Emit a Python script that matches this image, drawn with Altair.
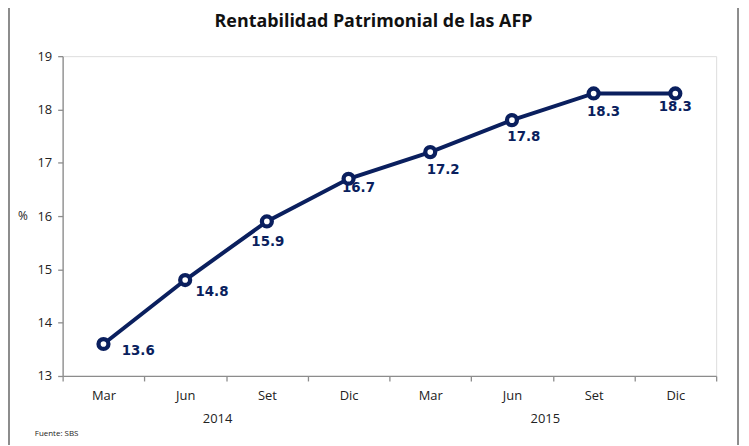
import altair as alt
import pandas as pd

months = ["Mar", "Jun", "Set", "Dic", "Mar", "Jun", "Set", "Dic"]
years = ["2014", "2014", "2014", "2014", "2015", "2015", "2015", "2015"]
values = [13.6, 14.8, 15.9, 16.7, 17.2, 17.8, 18.3, 18.3]
labels = ["13.6", "14.8", "15.9", "16.7", "17.2", "17.8", "18.3", "18.3"]
year_labels = ["2014", "2015"]

# layout only: label offsets (dx, dy) in pixels
label_dx = [35, 27, 1, 10, 13, 12, 10, 0]
label_dy = [7, 12, 21, 9, 18, 17, 19, 14]

keys = [f"{m} {y}" for m, y in zip(months, years)]
df = pd.DataFrame({"key": keys, "value": values, "label": labels, "idx": list(range(8))})

NAVY = "#0A1F5E"
FONT = "Open Sans"
GRAY = "#8c8c8c"

W, H = 658, 322

x = alt.X("key:N", sort=keys, title=None,
          scale=alt.Scale(paddingInner=0, paddingOuter=0),
          axis=alt.Axis(labelExpr="datum.value ? split(datum.value, ' ')[0] : ''",
                        labelAngle=0, bandPosition=0, tickBand="extent",
                        domainColor=GRAY, tickColor=GRAY,
                        tickSize=5, labelPadding=9, labelFontSize=13,
                        labelColor="#222222", labelFont=FONT, domainWidth=1.3,
                        tickWidth=1.3))
y = alt.Y("value:Q", title=None,
          scale=alt.Scale(domain=[13, 19], nice=False, zero=False),
          axis=alt.Axis(values=[13, 14, 15, 16, 17, 18, 19], grid=False,
                        domainColor=GRAY, tickColor=GRAY,
                        tickSize=5, labelPadding=6, labelFontSize=13,
                        labelColor="#222222", labelFont=FONT, domainWidth=1.3,
                        tickWidth=1.3))

base = alt.Chart(df)

line = base.mark_line(color=NAVY, strokeWidth=4).encode(x=x, y=y)
points = base.mark_point(shape="circle", filled=True, fill="white", stroke=NAVY,
                         strokeWidth=4.3, size=100, opacity=1).encode(x=x, y=y)

layers = [line, points]
for i in range(len(values)):
    layers.append(
        base.transform_filter(alt.datum.idx == i).mark_text(
            fontWeight="bold", fontSize=13.5, color=NAVY, font="DejaVu Sans",
            dx=label_dx[i], dy=label_dy[i]
        ).encode(x=x, y=y, text="label:N")
    )

# year labels under the month labels
ydf = pd.DataFrame({"year": year_labels, "pos": [156, 486]})
year_text = alt.Chart(ydf).mark_text(fontSize=13, color="#222222", font=FONT).encode(
    x=alt.X("pos:Q", scale=None), y=alt.value(H + 43), text="year:N")

title = alt.Chart(pd.DataFrame({"t": ["Rentabilidad Patrimonial de las AFP"]})).mark_text(
    fontSize=18, fontWeight="bold", color="#111111", font=FONT).encode(
    x=alt.value(313), y=alt.value(-34), text="t:N")

pct = alt.Chart(pd.DataFrame({"t": ["%"]})).mark_text(
    fontSize=12, color="#222222", font=FONT).encode(
    x=alt.value(-40), y=alt.value(H / 2), text="t:N")

fuente = alt.Chart(pd.DataFrame({"t": ["Fuente: SBS"]})).mark_text(
    fontSize=8, color="#222222", font=FONT, align="left").encode(
    x=alt.value(-28), y=alt.value(H + 58), text="t:N")

frame_l = alt.Chart(pd.DataFrame({"a": [0]})).mark_rule(color=GRAY, strokeWidth=2).encode(
    x=alt.value(-54), y=alt.value(-60), y2=alt.value(H + 80))
frame_r = alt.Chart(pd.DataFrame({"a": [0]})).mark_rule(color=GRAY, strokeWidth=2).encode(
    x=alt.value(680), y=alt.value(-60), y2=alt.value(H + 80))

chart = alt.layer(*layers, year_text, title, pct, fuente, frame_l, frame_r).properties(
    width=W, height=H,
    autosize=alt.AutoSizeParams(type="none"),
    padding={"left": 55, "top": 47, "right": 25, "bottom": 68},
).configure_view(stroke=None).configure(background="white")

chart.save("out.html", embed_options={"renderer": "svg", "actions": False})
